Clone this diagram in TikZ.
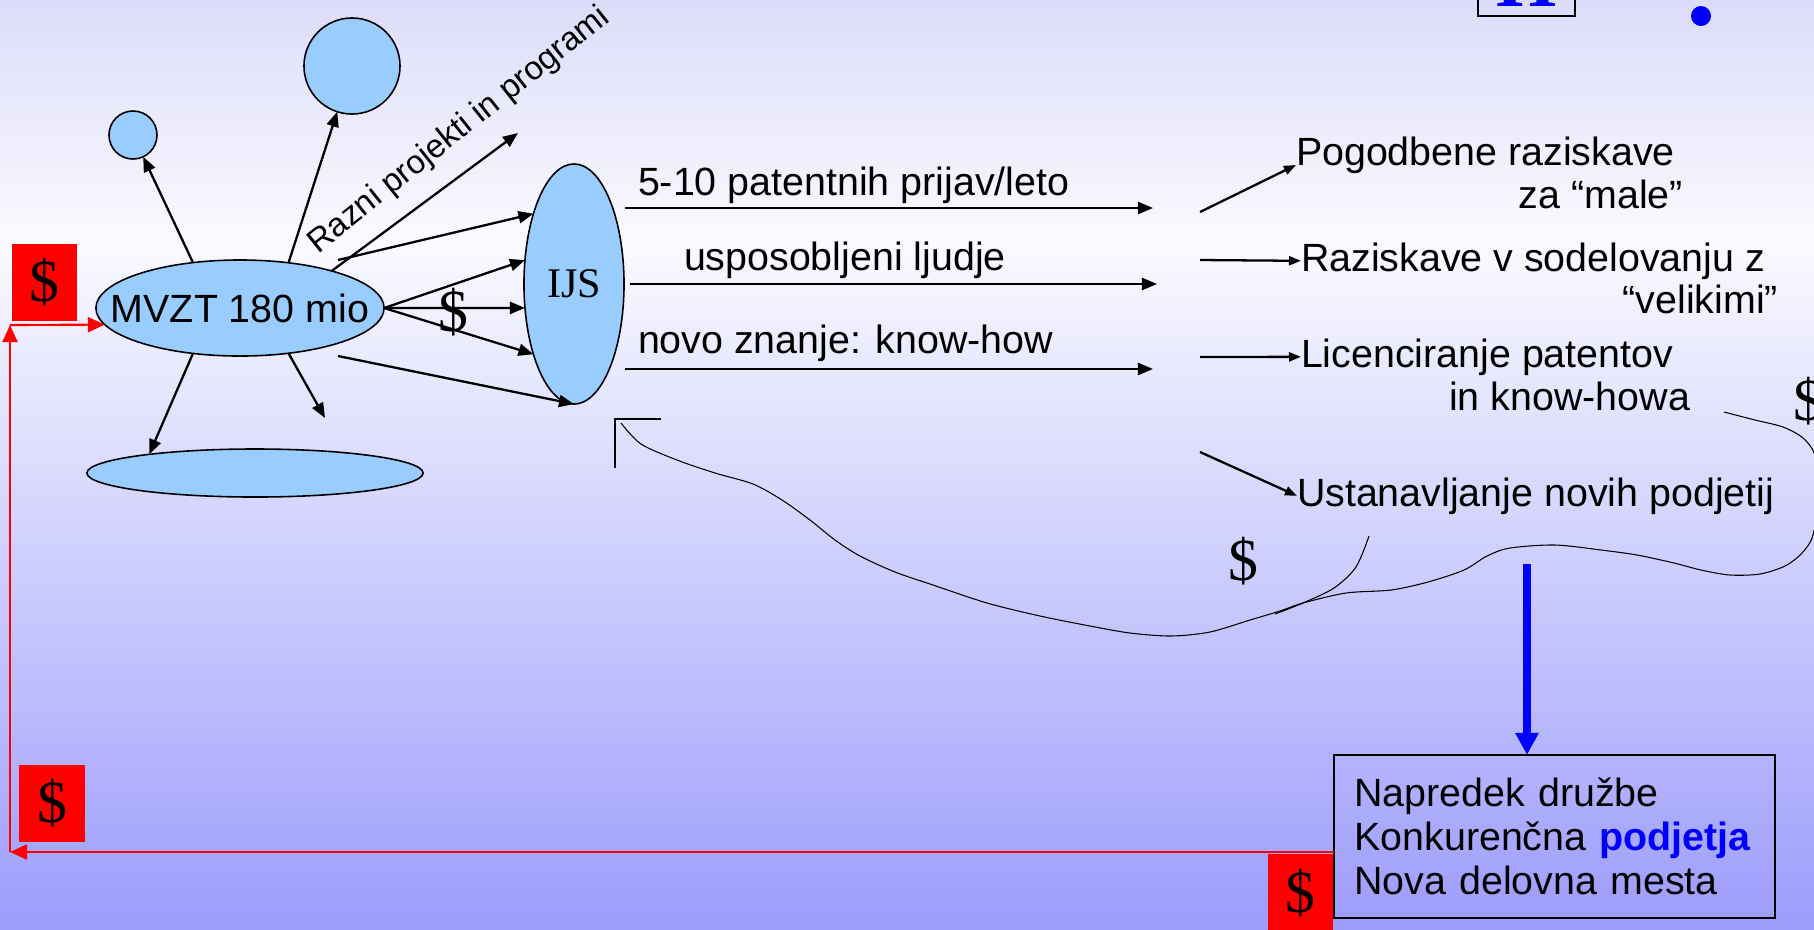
\documentclass[tikz,border=0pt]{standalone}
\usepackage{fontspec}
\setmainfont{Liberation Sans}
\newfontfamily\serifface{Liberation Serif}
\usetikzlibrary{arrows.meta,shapes.geometric,calc}
\definecolor{bgtop}{RGB}{220,220,250}
\definecolor{bgwhite}{RGB}{250,250,255}
\definecolor{bgbot}{RGB}{156,156,252}
\definecolor{blobblue}{HTML}{99CCFF}
\definecolor{cashred}{HTML}{FF0000}
\definecolor{slideblue}{HTML}{0000FF}
\pgfdeclareverticalshading{slidebg}{100bp}{color(0bp)=(bgbot); color(25bp)=(bgbot); color(62bp)=(bgwhite); color(75bp)=(bgtop); color(100bp)=(bgtop)}

\begin{document}
\begin{tikzpicture}[x=0.01cm, y=-0.01cm,
  every node/.style={inner sep=0pt, outer sep=0pt},
  txt/.style={font=\fontsize{11.2}{12.5}\selectfont},
  blob/.style={ellipse, draw, fill=blobblue, line width=0.45pt},
  cash/.style={font=\serifface\fontsize{17}{20}\selectfont},
  cashbox/.style={cash, fill=cashred, minimum width=0.65cm, minimum height=0.77cm},
  arr/.style={line width=0.65pt, -{Triangle[length=1.5mm,width=1.2mm]}},
  sarr/.style={line width=0.65pt, -{Triangle[length=1.2mm,width=0.9mm]}},
  redarr/.style={cashred, line width=0.6pt, -{Triangle[length=1.7mm,width=1.5mm]}},
  flow/.style={line width=0.3pt}
]

% ---- Slide background ----------------------------------------
\shade[shading=slidebg] (0,0) rectangle (1814,929);
\useasboundingbox (0,0) rectangle (1814,929);

% ---- Title remnant -------------------------------------------
\draw[line width=0.5pt] (1478,-10) -- (1478,16) -- (1575,16) -- (1575,-10);
\node[anchor=base, text=slideblue, font=\serifface\bfseries\fontsize{22}{24}\selectfont] (ttl) at (1527,6) {H};
\node[circle, fill=slideblue, minimum size=0.2cm] (dot) at (1701,16) {};

% ---- Money flow back to IJS ----------------------------------
\draw[flow] plot[smooth] coordinates {(621,423) (641,444) (677,460) (715,473) (753,484)
  (782,500) (810,520) (835,540) (860,556) (895,572) (933,585) (987,603) (1040,616)
  (1090,626) (1130,633) (1171,636) (1210,632) (1250,620) (1280,611) (1303,603)
  (1346,593) (1391,590) (1428,582) (1464,570) (1487,556) (1510,548) (1555,545)
  (1601,550) (1637,555) (1674,563) (1701,570) (1730,575) (1760,574) (1785,566)
  (1802,553) (1813,535) (1820,490) (1815,455) (1803,438) (1783,427) (1755,420) (1724,412)};
\draw[flow] plot[smooth] coordinates {(1369,536) (1356,567) (1334,588) (1303,603) (1275,614)};
\draw[line width=0.5pt] (661,419) -- (615,419) -- (615,468);

% ---- Bubbles -------------------------------------------------
\node[blob, minimum width=2.88cm, minimum height=0.96cm,
      label={[txt]center:MVZT 180 mio}] (mvzt) at (240,308) {};
\node[blob, minimum width=1.0cm, minimum height=2.4cm,
      font=\serifface\fontsize{12}{14}\selectfont] (ijs) at (574,284) {IJS};
\node[blob, circle, minimum size=0.48cm] (smallc) at (133,135) {};
\node[blob, circle, minimum size=0.96cm] (bigc) at (352,66) {};
\node[blob, minimum width=3.36cm, minimum height=0.48cm] (flat) at (255,473) {};

% ---- MVZT outward --------------------------------------------
\coordinate (rp) at (518,133);
\coordinate (dn) at (325,418);
\draw[arr] (mvzt.136) -- (smallc);
\draw[arr] (mvzt.43) -- (bigc);
\draw[arr] (mvzt.22) -- (rp);
\draw[arr] (mvzt.224) -- (flat.170);
\draw[arr] (mvzt.317) -- (dn);
\node[rotate=38.5, anchor=base west, font=\fontsize{9.4}{11}\selectfont] (razni) at (318,254) {Razni projekti in programi};

% ---- MVZT to IJS ---------------------------------------------
\coordinate (m1) at (338,260);
\coordinate (m2) at (338,356);
\draw[arr] (m1) -- (ijs.120);
\foreach \a in {154,206,240}
  \draw[arr] (mvzt.east) -- (ijs.\a);
\draw[arr] (m2) -- (ijs.south);
\node[cash] (d1) at (453,312) {\$};

% ---- IJS outputs ---------------------------------------------
\coordinate (p1) at (625,208);  \coordinate (p1e) at (1153,208);
\coordinate (p2) at (630,284);  \coordinate (p2e) at (1157,284);
\coordinate (p3) at (625,369);  \coordinate (p3e) at (1153,369);
\draw[arr] (p1) -- (p1e);
\draw[arr] (p2) -- (p2e);
\draw[arr] (p3) -- (p3e);
\node[txt, anchor=base west] (pat) at (638,195) {5-10 patentnih prijav/leto};
\node[txt, anchor=base west] (ljud) at (684,270) {usposobljeni ljudje};
\node[txt, anchor=base west] (znan) at (638,353) {novo znanje: know-how};

% ---- Uses of knowledge ---------------------------------------
\node[txt, anchor=base west] (pogod) at (1296,165) {Pogodbene raziskave};
\node[txt, anchor=base east] (pogod2) at (1683,208) {za “male”};
\node[txt, anchor=base west] (razisk) at (1301,271) {Raziskave v sodelovanju z};
\node[txt, anchor=base east] (razisk2) at (1778,313) {“velikimi”};
\node[txt, anchor=base west] (licenc) at (1301,367) {Licenciranje patentov};
\node[txt, anchor=base east] (licenc2) at (1690,410) {in know-howa};
\node[txt, anchor=base west] (ustan) at (1297,506) {Ustanavljanje novih podjetij};
\coordinate (s1) at (1200,212);
\coordinate (s2) at (1200,260);
\coordinate (s3) at (1200,357);
\coordinate (s4) at (1200,452);
\draw[sarr] (s1) -- (pogod.base west);
\draw[sarr] (s2) -- (razisk.west);
\draw[sarr] (s3) -- (licenc.west);
\draw[sarr] (s4) -- (ustan.west);
\node[cash] (d2) at (1243,561) {\$};
\node[cash] (d3) at (1808,401) {\$};

% ---- Benefit box ---------------------------------------------
\node[txt, draw, line width=0.6pt, minimum width=4.41cm, minimum height=1.63cm,
      text width=4.0cm, align=left] (napr) at (1554.5,836.5)
      {Napredek družbe\\Konkurenčna \textcolor{slideblue}{\textbf{podjetja}}\\Nova delovna mesta};
\coordinate (bt) at (1527,564);
\draw[slideblue, line width=0.08cm, -{Triangle[length=2.2mm,width=2.2mm]}] (bt) -- (napr.north -| bt);

% ---- Money back to MVZT --------------------------------------
\coordinate (c1) at (10,852);
\coordinate (c2) at (10,325);
\draw[redarr] (napr.west |- c1) -- (c1);
\draw[redarr] (c1) -- (c2);
\draw[redarr] (c2) -- (mvzt.187);
\node[cashbox] (rb1) at (44.5,282.5) {\$};
\node[cashbox] (rb2) at (52,803.5) {\$};
\node[cashbox] (rb3) at (1300.5,893) {\$};

\end{tikzpicture}
\end{document}
